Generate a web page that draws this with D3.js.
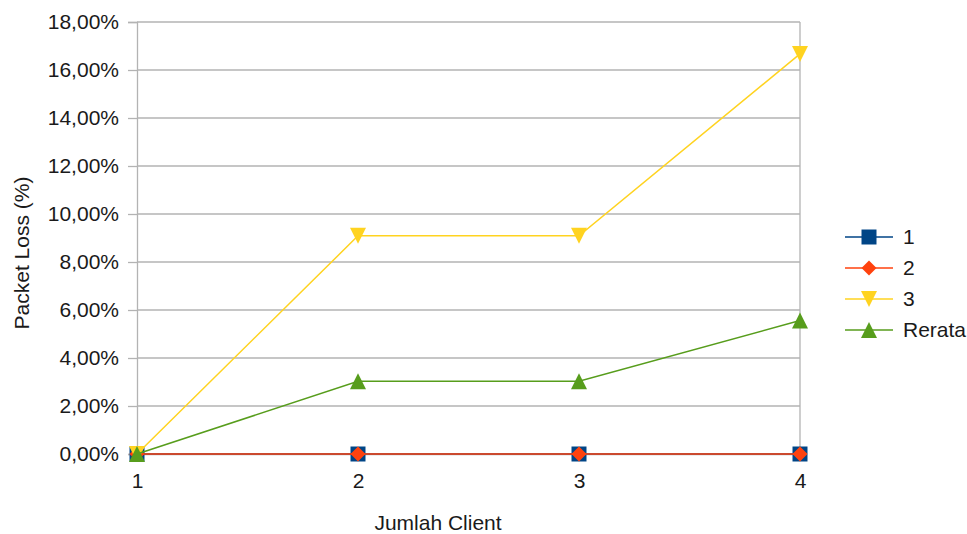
<!DOCTYPE html>
<html>
<head>
<meta charset="utf-8">
<script src="https://cdn.jsdelivr.net/npm/d3@7"></script>
<style>
  html, body { margin: 0; padding: 0; background: #fff; }
  svg text { font-family: "Liberation Sans", Arial, sans-serif; fill: #1a1a1a; }
</style>
</head>
<body>
<svg id="chart" width="967" height="534"></svg>
<script>
// Packet loss per number of clients
const clients = [1, 2, 3, 4];
const series1 = [0, 0, 0, 0];
const series2 = [0, 0, 0, 0];
const series3 = [0, 9.09, 9.09, 16.67];
const rerata = [0, 3.03, 3.03, 5.56];
const yTicks = [0, 2, 4, 6, 8, 10, 12, 14, 16, 18];

const seriesNames = ["1", "2", "3", "Rerata"];
const seriesColors = ["#004586", "#ff420e", "#ffd320", "#579d1c"];
const seriesShapes = ["square", "diamond", "triangleDown", "triangleUp"];
const seriesValues = [series1, series2, series3, rerata];

const margin = { left: 137, right: 167, top: 22, bottom: 80 };
const W = 967, H = 534;
const svg = d3.select("#chart");

const x = d3.scaleLinear().domain([1, 4]).range([margin.left, W - margin.right]);
const y = d3.scaleLinear().domain([0, 18]).range([H - margin.bottom, margin.top]);

const fontSize = 21;

// horizontal grid
svg.append("g").selectAll("line").data(yTicks).join("line")
  .attr("x1", x(1)).attr("x2", x(4))
  .attr("y1", d => y(d)).attr("y2", d => y(d))
  .attr("stroke", "#b3b3b3").attr("stroke-width", 1.3);

// y axis with outward ticks
const yAxis = d3.axisLeft(y).tickValues(yTicks).tickSize(9).tickPadding(9)
  .tickFormat(d => d.toFixed(2).replace(".", ",") + "%");
const gy = svg.append("g").attr("transform", `translate(${x(1)},0)`).call(yAxis);
gy.select(".domain").attr("stroke", "#b3b3b3").attr("stroke-width", 1.3);
gy.selectAll(".tick line").attr("stroke", "#b3b3b3").attr("stroke-width", 1.3);
gy.selectAll(".tick text").attr("font-size", fontSize).attr("font-family", "Liberation Sans, Arial, sans-serif").attr("fill", "#1a1a1a");

// right border
svg.append("line").attr("x1", x(4)).attr("x2", x(4)).attr("y1", y(18)).attr("y2", y(0))
  .attr("stroke", "#b3b3b3").attr("stroke-width", 1.3);

// x axis labels
const xAxis = d3.axisBottom(x).tickValues(clients).tickSize(0).tickPadding(19).tickFormat(d3.format("d"));
const gx = svg.append("g").attr("transform", `translate(0,${y(0)})`).call(xAxis);
gx.select(".domain").attr("stroke", "#b3b3b3").attr("stroke-width", 1.3);
gx.selectAll(".tick text").attr("font-size", fontSize).attr("font-family", "Liberation Sans, Arial, sans-serif").attr("fill", "#1a1a1a");

function markerPath(shape, s) {
  const h = s / 2;
  switch (shape) {
    case "square": return `M${-h},${-h}H${h}V${h}H${-h}Z`;
    case "diamond": return `M0,${-h}L${h},0L0,${h}L${-h},0Z`;
    case "triangleDown": return `M${-h},${-h}L${h},${-h}L0,${h}Z`;
    case "triangleUp": return `M0,${-h}L${h},${h}L${-h},${h}Z`;
  }
}
const markerSize = [15, 15, 16, 16];

const line = d3.line().x((d, i) => x(clients[i])).y(d => y(d));

seriesValues.forEach((vals, k) => {
  const g = svg.append("g");
  g.append("path").datum(vals).attr("d", line)
    .attr("fill", "none").attr("stroke", seriesColors[k]).attr("stroke-width", 1.5);
  g.selectAll("path.m").data(vals).join("path").attr("class", "m")
    .attr("transform", (d, i) => `translate(${x(clients[i])},${y(d)})`)
    .attr("d", markerPath(seriesShapes[k], markerSize[k]))
    .attr("fill", seriesColors[k]);
});

// legend
const legend = svg.append("g").attr("transform", "translate(845,237)");
seriesNames.forEach((name, k) => {
  const row = legend.append("g").attr("transform", `translate(0,${k * 31})`);
  row.append("line").attr("x1", 0).attr("x2", 48).attr("stroke", seriesColors[k]).attr("stroke-width", 1.5);
  row.append("path").attr("transform", "translate(24,0)")
    .attr("d", markerPath(seriesShapes[k], markerSize[k])).attr("fill", seriesColors[k]);
  row.append("text").attr("x", 58).attr("y", 0).attr("dy", "0.35em")
    .attr("font-size", fontSize).text(name);
});

// axis titles
svg.append("text").attr("x", 438).attr("y", 530)
  .attr("text-anchor", "middle").attr("font-size", fontSize).text("Jumlah Client");
svg.append("text").attr("transform", "translate(29,253) rotate(-90)")
  .attr("text-anchor", "middle").attr("font-size", fontSize).text("Packet Loss (%)");
</script>
</body>
</html>
